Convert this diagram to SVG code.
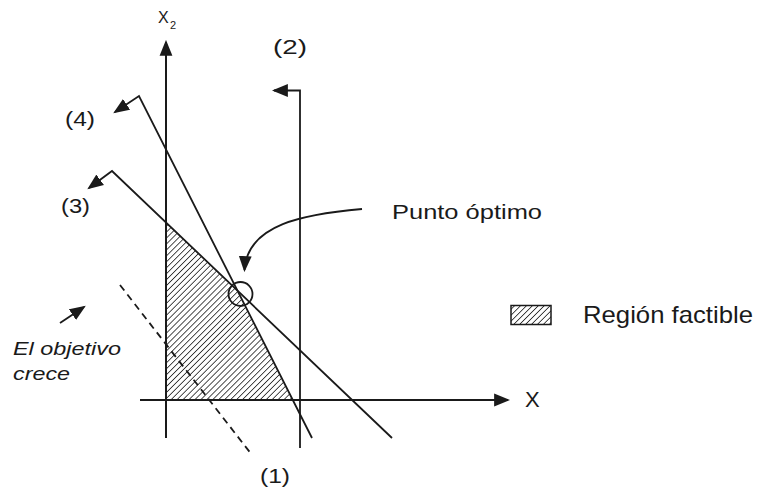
<svg xmlns="http://www.w3.org/2000/svg" width="759" height="492" viewBox="0 0 759 492">
<style>
.ln{fill:none;stroke:#1a1a1a;stroke-width:1.8}
.ax{fill:none;stroke:#1a1a1a;stroke-width:2}
.t{font-family:"Liberation Sans",Arial,sans-serif;fill:#1a1a1a}
.it{font-style:italic}
</style>
<defs>
<pattern id="hatch" patternUnits="userSpaceOnUse" width="4.2" height="4.2" patternTransform="rotate(45)">
<rect width="4.2" height="4.2" fill="#fff"/>
<line x1="0" y1="0" x2="0" y2="4.2" stroke="#222" stroke-width="1.6"/>
</pattern>
<marker id="ah" markerUnits="userSpaceOnUse" markerWidth="16" markerHeight="14" refX="13" refY="6" orient="auto" viewBox="0 0 15 12">
<path d="M0,0 L15,6 L0,12 Z" fill="#1a1a1a"/>
</marker>
</defs>
<g id="region">
<polygon points="166,222.5 237.4,290.6 292.8,400 166,400" fill="url(#hatch)"/>
</g>
<g id="connectors">
<line id="y-axis" class="ax" x1="166" y1="438" x2="166" y2="42" marker-end="url(#ah)"/>
<line id="x-axis" class="ax" x1="140" y1="400" x2="508" y2="400" marker-end="url(#ah)"/>
<polyline id="c2" class="ln" points="300,448 300,90.5 274,90.5" marker-end="url(#ah)"/>
<polyline id="c4" class="ln" points="312,438 139,96 115,112" marker-end="url(#ah)"/>
<polyline id="c3" class="ln" points="392,438 112,171 89,188" marker-end="url(#ah)"/>
<line id="c1" x1="120" y1="285" x2="252" y2="455" stroke="#1a1a1a" stroke-width="1.8" stroke-dasharray="7 5"/>
<path id="opt-arrow" class="ln" d="M362,209 C305,214 247,224 244.5,270" marker-end="url(#ah)"/>
<line id="obj-arrow" class="ln" x1="60" y1="323" x2="84" y2="307" marker-end="url(#ah)"/>
</g>
<g id="optimum">
<circle cx="240.5" cy="294" r="12" fill="none" stroke="#1a1a1a" stroke-width="1.8"/>
</g>
<g id="legend">
<rect x="511" y="305.5" width="40" height="19" fill="url(#hatch)" stroke="#1a1a1a" stroke-width="1.5"/>
<text class="t" x="583" y="323" font-size="24" textLength="170" lengthAdjust="spacingAndGlyphs">Región factible</text>
</g>
<g id="labels">
<text class="t" x="158" y="23" font-size="16">X</text>
<text class="t" x="170" y="29" font-size="11">2</text>
<text class="t" x="525" y="407" font-size="22">X</text>
<text class="t" x="273" y="54" font-size="21" textLength="34" lengthAdjust="spacingAndGlyphs">(2)</text>
<text class="t" x="65" y="126" font-size="21" textLength="30" lengthAdjust="spacingAndGlyphs">(4)</text>
<text class="t" x="61" y="213" font-size="21" textLength="29" lengthAdjust="spacingAndGlyphs">(3)</text>
<text class="t" x="260" y="483" font-size="21" textLength="30" lengthAdjust="spacingAndGlyphs">(1)</text>
<text class="t" x="392" y="219" font-size="21" textLength="150" lengthAdjust="spacingAndGlyphs">Punto óptimo</text>
<text class="t it" x="13" y="355" font-size="18" textLength="108" lengthAdjust="spacingAndGlyphs">El objetivo</text>
<text class="t it" x="13" y="380" font-size="18" textLength="57" lengthAdjust="spacingAndGlyphs">crece</text>
</g>
</svg>
